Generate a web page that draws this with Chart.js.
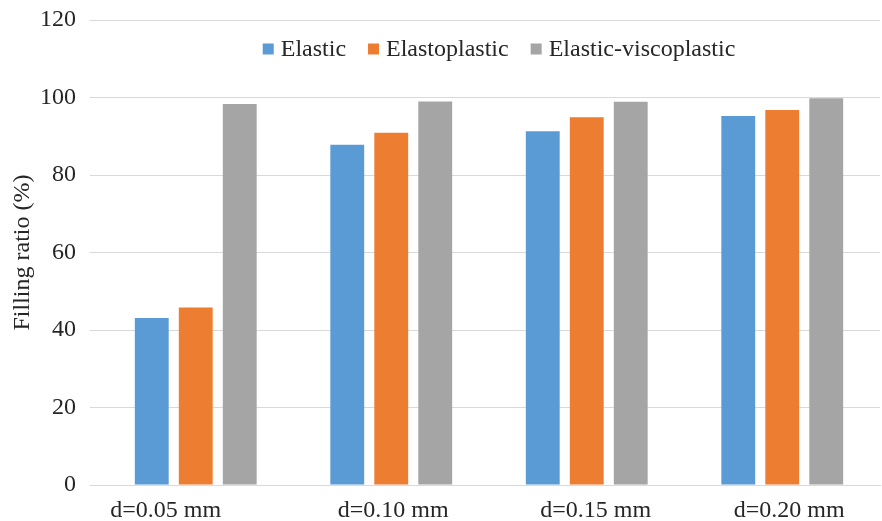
<!DOCTYPE html>
<html>
<head>
<meta charset="utf-8">
<script src="https://cdn.jsdelivr.net/npm/chart.js@4.4.1/dist/chart.umd.min.js"></script>
<style>
  body { margin: 0; background: #fff; }
  #wrap { width: 882px; height: 521px; }
</style>
</head>
<body>
<div id="wrap"><canvas id="fillChart" width="882" height="521"></canvas></div>
<script>
// Filling ratio data
const categories = ["d=0.05 mm", "d=0.10 mm", "d=0.15 mm", "d=0.20 mm"];
const elastic = [43.1, 87.8, 91.3, 95.2];
const elastoplastic = [45.8, 90.9, 94.9, 96.8];
const elasticViscoplastic = [98.3, 99.0, 98.9, 99.8];

const serif = "'Liberation Serif', 'Times New Roman', serif";
const textColor = "#262626";
const fontSize = 24;

// the category labels in the original sit a little off their groups
const labelShift = [-30, 2, 9, 7];

// legend drawn inside the plot area, between the 120 and 100 gridlines
const insideLegend = {
    id: "insideLegend",
    afterDraw(chart) {
        const c = chart.ctx;
        const area = chart.chartArea;
        const box = 11, gap = 7, spacing = 22;
        c.save();
        c.font = `${fontSize}px ${serif}`;
        const items = chart.data.datasets.map((ds) => ({
            text: ds.label,
            color: ds.backgroundColor,
            w: c.measureText(ds.label).width,
        }));
        const total = items.reduce((s, it) => s + box + gap + it.w, 0) + spacing * (items.length - 1);
        let x = (area.left + area.right) / 2 + 10 - total / 2;
        const yMid = area.top + 29;
        c.textBaseline = "middle";
        items.forEach((it) => {
            c.fillStyle = it.color;
            c.fillRect(x, yMid - box / 2, box, box);
            x += box + gap;
            c.fillStyle = textColor;
            c.fillText(it.text, x, yMid + 1);
            x += it.w + spacing;
        });
        c.restore();
    },
};

// x category labels
const categoryLabels = {
    id: "categoryLabels",
    afterDraw(chart) {
        const c = chart.ctx;
        const xs = chart.scales.x;
        c.save();
        c.font = `${fontSize}px ${serif}`;
        c.fillStyle = textColor;
        c.textAlign = "center";
        c.textBaseline = "alphabetic";
        categories.forEach((lab, i) => {
            c.fillText(lab, xs.getPixelForValue(i) + labelShift[i], chart.chartArea.bottom + 32);
        });
        c.restore();
    },
};

const config = {
    type: "bar",
    data: {
        labels: categories,
        datasets: [
            { label: "Elastic", data: elastic, backgroundColor: "#5B9BD5" },
            { label: "Elastoplastic", data: elastoplastic, backgroundColor: "#ED7D31" },
            { label: "Elastic-viscoplastic", data: elasticViscoplastic, backgroundColor: "#A5A5A5" },
        ],
    },
    options: {
        responsive: false,
        animation: false,
        categoryPercentage: 0.675,
        barPercentage: 0.77,
        layout: {
            padding: { top: 20, right: 2, left: 0, bottom: 0 },
        },
        plugins: {
            tooltip: { enabled: false },
            legend: { display: false },
        },
        scales: {
            x: {
                grid: { display: false },
                border: { color: "#d9d9d9" },
                ticks: { display: false },
                afterFit: (scale) => { scale.height = 36; },
            },
            y: {
                min: 0,
                max: 120,
                grid: { color: "#d9d9d9" },
                border: { display: false },
                ticks: {
                    stepSize: 20,
                    color: textColor,
                    font: { family: serif, size: fontSize },
                    padding: 14,
                },
                title: {
                    display: true,
                    text: "Filling ratio (%)",
                    color: textColor,
                    font: { family: serif, size: fontSize },
                    padding: { top: 8, bottom: 4 },
                },
                afterFit: (scale) => {
                    scale.width = 98;
                    scale.paddingTop = 0;
                    scale.paddingBottom = 0;
                },
            },
        },
    },
    plugins: [insideLegend, categoryLabels],
};

const ctx = document.getElementById("fillChart").getContext("2d");
const fillChart = new Chart(ctx, config);
</script>
</body>
</html>
